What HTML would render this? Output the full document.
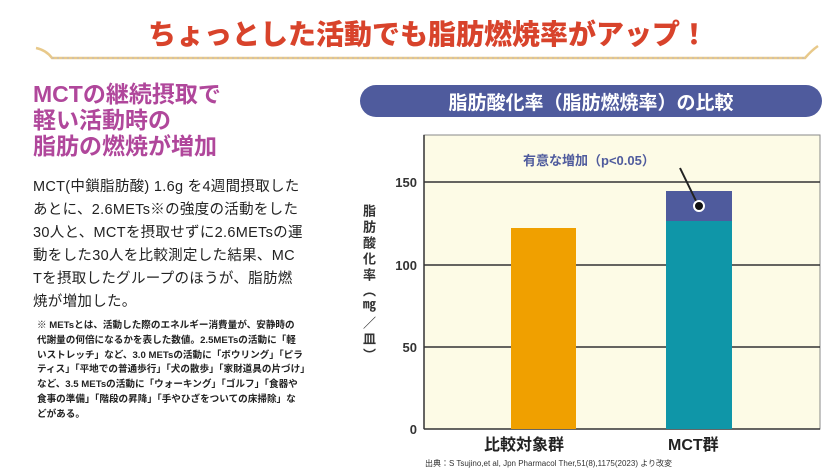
<!DOCTYPE html>
<html><head><meta charset="utf-8"><style>
body{margin:0;width:840px;height:474px;background:#fff;overflow:hidden;position:relative;font-family:"Liberation Sans","Noto Sans CJK JP",sans-serif;}
.a{position:absolute;white-space:nowrap;}
</style></head><body>
<div class="a" style="left:0;width:856px;top:13px;text-align:center;font-size:28px;font-weight:900;color:#d8432b;">ちょっとした活動でも脂肪燃焼率がアップ！</div>
<svg class="a" style="left:0;top:0" width="840" height="474">
<path d="M36 48 Q46 50 52 58 L805 58 Q812 50 818 46" fill="none" stroke="#e8c98a" stroke-width="2.5"/>
<line x1="52" y1="58" x2="805" y2="58" stroke="#b8b8c8" stroke-width="1" stroke-dasharray="2 3"/>
<rect x="360" y="85" width="462" height="32" rx="16" fill="#4f5b9d"/>
<rect x="424" y="135" width="396" height="294" fill="#fdfbe6" stroke="#888" stroke-width="1"/>
<g stroke="#333" stroke-width="1.5">
<line x1="424" y1="182" x2="820" y2="182"/><line x1="424" y1="265" x2="820" y2="265"/><line x1="424" y1="347" x2="820" y2="347"/><line x1="424" y1="429" x2="820" y2="429"/><line x1="424" y1="135" x2="424" y2="429"/>
</g>
<rect x="511" y="228" width="65" height="201" fill="#f0a000"/>
<rect x="666" y="221" width="66" height="208" fill="#0f96a8"/>
<rect x="666" y="191" width="66" height="30" fill="#4f5b9d"/>
<line x1="680" y1="168" x2="698" y2="205" stroke="#222" stroke-width="2"/>
<circle cx="699" cy="206" r="5" fill="#111" stroke="#fff" stroke-width="2"/>
<g font-size="13" font-weight="bold" fill="#333" text-anchor="end" font-family="Liberation Sans,sans-serif">
<text x="417" y="187">150</text><text x="417" y="270">100</text><text x="417" y="352">50</text><text x="417" y="434">0</text></g>
</svg>
<div class="a" style="left:359px;top:204px;writing-mode:vertical-rl;text-orientation:upright;font-size:13px;font-weight:bold;color:#333;line-height:18px;letter-spacing:3px;">脂肪酸化率（㎎／皿）</div>
<div class="a" style="left:360px;width:462px;top:88px;text-align:center;font-size:19px;font-weight:bold;color:#fff;">脂肪酸化率（脂肪燃焼率）の比較</div>
<div class="a" style="left:523px;top:150px;font-size:13px;font-weight:bold;color:#4f5b9d;">有意な増加（p&lt;0.05）</div>
<div class="a" style="left:484px;top:431px;font-size:16px;font-weight:bold;color:#222;">比較対象群</div>
<div class="a" style="left:668px;top:431px;font-size:16px;font-weight:bold;color:#222;">MCT群</div>
<div class="a" style="left:425px;top:458px;font-size:8px;color:#333;">出典：S Tsujino,et al, Jpn Pharmacol Ther,51(8),1175(2023) より改変</div>
<div class="a" style="left:33px;top:81px;font-size:23px;font-weight:bold;color:#b0479b;line-height:26px;">MCTの継続摂取で<br>軽い活動時の<br>脂肪の燃焼が増加</div>
<div class="a" style="left:33px;top:176px;font-size:14.5px;color:#222;line-height:23px;letter-spacing:0.3px;">MCT(中鎖脂肪酸) 1.6g を4週間摂取した<br>あとに、2.6METs※の強度の活動をした<br>30人と、MCTを摂取せずに2.6METsの運<br>動をした30人を比較測定した結果、MC<br>Tを摂取したグループのほうが、脂肪燃<br>焼が増加した。</div>
<div class="a" style="left:37px;top:319px;font-size:9.6px;color:#222;line-height:14.8px;font-weight:bold;">※ METsとは、活動した際のエネルギー消費量が、安静時の<br>代謝量の何倍になるかを表した数値。2.5METsの活動に「軽<br>いストレッチ」など、3.0 METsの活動に「ボウリング」「ピラ<br>ティス」「平地での普通歩行」「犬の散歩」「家財道具の片づけ」<br>など、3.5 METsの活動に「ウォーキング」「ゴルフ」「食器や<br>食事の準備」「階段の昇降」「手やひざをついての床掃除」な<br>どがある。</div>
</body></html>
